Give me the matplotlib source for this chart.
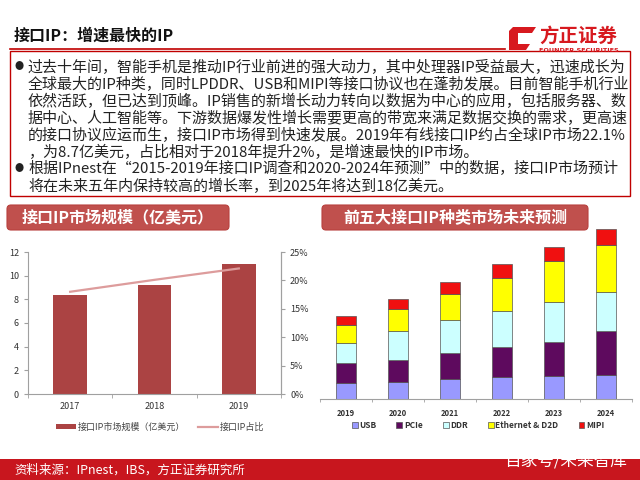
import matplotlib
matplotlib.use('Agg')
import matplotlib.pyplot as plt
from matplotlib.patches import Rectangle, FancyBboxPatch, Polygon
import numpy as np

plt.rcParams['font.family'] = ['Noto Sans CJK SC', 'DejaVu Sans']

# left chart: interface IP market size
years_l = ['2017', '2018', '2019']
market_size = [8.4, 9.2, 11.0]          # 亿美元
market_share = [18.0, 20.1, 22.1]       # %

# right chart: top five interface IP forecast (estimated, $M)
years_r = ['2019', '2020', '2021', '2022', '2023', '2024']
usb = [165, 182, 214, 235, 245, 256]
pcie = [210, 231, 266, 308, 354, 462]
ddr = [214, 301, 347, 378, 417, 406]
eth = [189, 228, 277, 354, 431, 494]
mipi = [98, 112, 126, 140, 154, 165]
seg_names = ['USB', 'PCIe', 'DDR', 'Ethernet & D2D', 'MIPI']
seg_colors = ['#9999ff', '#5e0a5e', '#ccffff', '#ffff00', '#f01010']

title = '接口IP：增速最快的IP'
body_lines = [
    '过去十年间，智能手机是推动IP行业前进的强大动力，其中处理器IP受益最大，迅速成长为',
    '全球最大的IP种类，同时LPDDR、USB和MIPI等接口协议也在蓬勃发展。目前智能手机行业',
    '依然活跃，但已达到顶峰。IP销售的新增长动力转向以数据为中心的应用，包括服务器、数',
    '据中心、人工智能等。下游数据爆发性增长需要更高的带宽来满足数据交换的需求，更高速',
    '的接口协议应运而生，接口IP市场得到快速发展。2019年有线接口IP约占全球IP市场22.1%',
    '，为8.7亿美元，占比相对于2018年提升2%，是增速最快的IP市场。',
    '根据IPnest在“2015-2019年接口IP调查和2020-2024年预测”中的数据，接口IP市场预计',
    '将在未来五年内保持较高的增长率，到2025年将达到18亿美元。',
]
bullet_rows = [0, 6]

fig = plt.figure(figsize=(6.4, 4.8), dpi=100)

# page layer in pixel coords
pg = fig.add_axes([0, 0, 1, 1])
pg.set_xlim(0, 640)
pg.set_ylim(480, 0)
pg.axis('off')

red = '#c00000'
pg.text(14, 36, title, fontsize=11.5, fontweight='bold', color='#111111', va='center')
pg.plot([10, 505], [48.5, 48.5], color=red, lw=1.2)
pg.add_patch(Rectangle((10, 51), 620, 145, fill=False, ec=red, lw=1.0))

# logo
pg.add_patch(Polygon([(513, 27), (536, 27), (532, 33), (518, 33), (518, 44),
                      (530, 44), (526, 50), (509, 50), (509, 31)],
                     closed=True, fc='#d7191f', ec='none'))
pg.text(539, 36, '方正证券', fontsize=14, fontweight='bold', color='#d7191f', va='center')
pg.text(539, 50, 'FOUNDER SECURITIES', fontsize=4.6, fontweight='bold',
        color='#d7191f', va='center', family='DejaVu Sans')

y0 = 67
for i, line in enumerate(body_lines):
    yy = y0 + i * 17
    if i in bullet_rows:
        pg.text(19, yy, '●', fontsize=6.5, color='#222222', va='center', ha='center')
    pg.text(28, yy, line, fontsize=10.8, color='#222222', va='center')

# chart headers
for x0, w, txt in [(7, 222, '接口IP市场规模（亿美元）'), (322, 266, '前五大接口IP种类市场未来预测')]:
    pg.add_patch(FancyBboxPatch((x0, 205), w, 25, boxstyle='round,pad=0,rounding_size=4',
                                fc='#c0504d', ec='#b8403d', lw=0.8))
    pg.text(x0 + w / 2, 217.5, txt, fontsize=11.5, fontweight='bold', color='white',
            ha='center', va='center')

# footer
pg.add_patch(Rectangle((0, 459), 640, 21, fc='#c8161e', ec='none'))
pg.text(14, 470, '资料来源：IPnest，IBS，方正证券研究所', fontsize=9, color='white', va='center')
pg.text(628, 461, '百家号/未来智库', fontsize=12, color='white', ha='right', va='center')

# ---- left chart
axl = fig.add_axes([28 / 640, 1 - 394 / 480, 253 / 640, 142 / 480])
axl.patch.set_visible(False)
xl = np.arange(len(years_l))
bars = axl.bar(xl, market_size, width=0.4, color='#ab4343', label='接口IP市场规模（亿美元）')
axl.set_xlim(-0.5, 2.5)
axl.set_ylim(0, 12)
axl.set_yticks(range(0, 13, 2))
axl.set_xticks(xl)
axl.set_xticklabels(years_l)
axl.set_xticks([-0.5, 0.5, 1.5, 2.5], minor=True)
axl.tick_params(axis='x', which='major', length=0, labelsize=6.5, colors='#333333', pad=6)
axl.tick_params(axis='x', which='minor', length=3, color='#a0a0a0')
axl.tick_params(axis='y', length=3, labelsize=6.5, colors='#333333', color='#a0a0a0')
axl.spines['top'].set_visible(False)
for s in ['left', 'right', 'bottom']:
    axl.spines[s].set_color('#a0a0a0')

axr = axl.twinx()
ln, = axr.plot(xl, market_share, color='#dd9c9c', lw=1.6, label='接口IP占比')
axr.set_ylim(0, 25)
axr.set_yticks(range(0, 26, 5))
axr.set_yticklabels([f'{v}%' for v in range(0, 26, 5)])
axr.tick_params(axis='y', length=3, labelsize=6.5, colors='#333333', color='#a0a0a0')
axr.spines['top'].set_visible(False)
axr.spines['right'].set_color('#a0a0a0')
axr.spines['left'].set_visible(False)
axr.spines['bottom'].set_visible(False)

fig.legend([bars, ln], ['接口IP市场规模（亿美元）', '接口IP占比'],
           loc='center', bbox_to_anchor=(160 / 640, 1 - 427 / 480), ncol=2,
           frameon=False, fontsize=6.5, handlelength=2.2, handleheight=0.6,
           columnspacing=1.5, handletextpad=0.2, labelcolor='#444444')

# ---- right chart
axs = fig.add_axes([320 / 640, 1 - 399 / 480, 312 / 640, 177 / 480])
axs.patch.set_visible(False)
xr = np.arange(len(years_r))
bottom = np.zeros(len(years_r))
handles = []
for vals, name, col in zip([usb, pcie, ddr, eth, mipi], seg_names, seg_colors):
    h = axs.bar(xr, vals, width=0.4, bottom=bottom, color=col, ec='#555555', lw=0.5, label=name)
    handles.append(h)
    bottom += np.array(vals)
axs.set_xlim(-0.5, 5.5)
axs.set_ylim(0, 1860)
axs.set_yticks([])
axs.set_xticks(xr)
axs.set_xticklabels(years_r)
axs.set_xticks(np.arange(-0.5, 6, 1), minor=True)
axs.tick_params(axis='x', which='major', length=0, labelsize=5.5, pad=7, colors='#333333')
axs.tick_params(axis='x', which='minor', length=2.5, color='#a0a0a0')
for lbl in axs.get_xticklabels():
    lbl.set_fontweight('bold')
for s in ['left', 'right', 'top']:
    axs.spines[s].set_visible(False)
axs.spines['bottom'].set_color('#a0a0a0')

fig.legend(handles, seg_names, loc='center', bbox_to_anchor=(478 / 640, 1 - 425 / 480),
           ncol=5, frameon=False, handlelength=0.7, handleheight=0.7,
           handletextpad=0.2, columnspacing=2.4,
           prop={'size': 6, 'weight': 'bold'}, labelcolor='#333333')

fig.savefig('out.png', dpi=100)
